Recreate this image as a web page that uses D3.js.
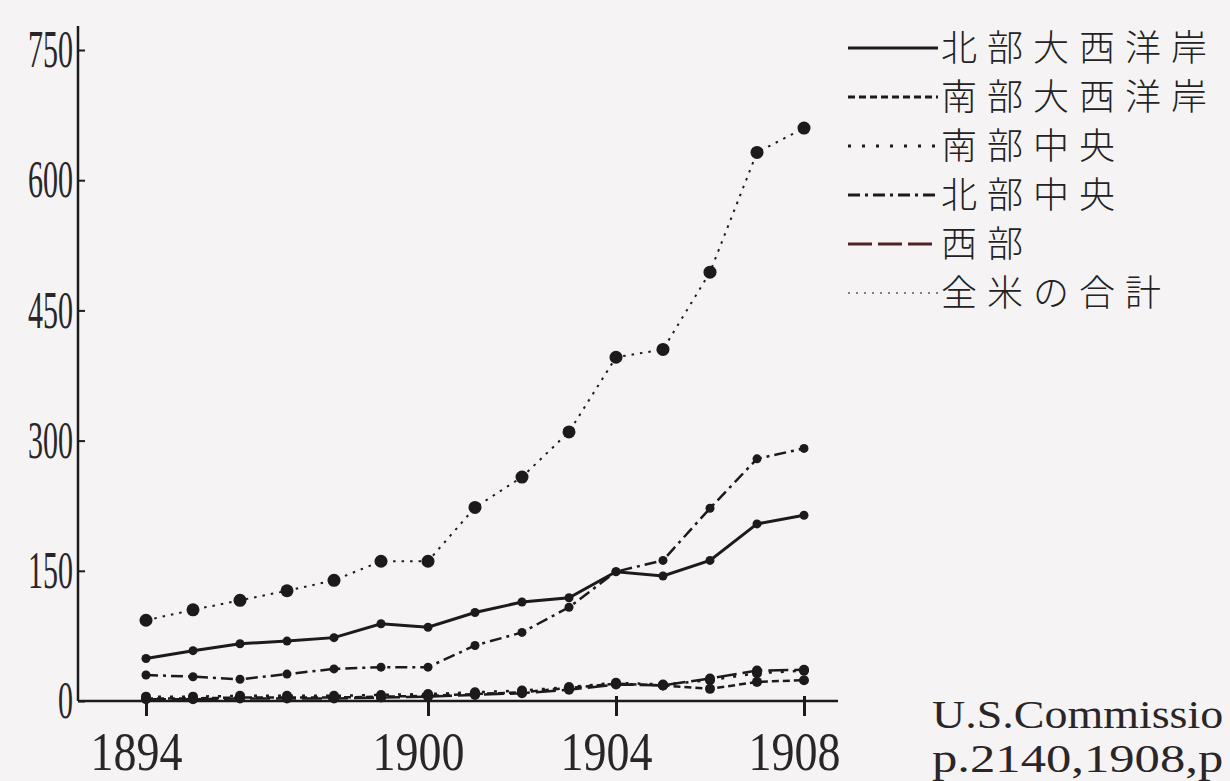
<!DOCTYPE html>
<html>
<head>
<meta charset="utf-8">
<script src="https://cdn.jsdelivr.net/npm/d3@7"></script>
<style>
body { margin: 0; background: #f6f3f4; }
</style>
</head>
<body>
<div id="chart-area"></div>
<script>
// data
var years = [1894, 1895, 1896, 1897, 1898, 1899, 1900, 1901, 1902, 1903, 1904, 1905, 1906, 1907, 1908];
var tickYears = [1894, 1900, 1904, 1908];
var yTicks = [0, 150, 300, 450, 600, 750];

var seriesNames = ["北部大西洋岸", "南部大西洋岸", "南部中央", "北部中央", "西部", "全米の合計"];
var northAtlantic = [49, 58, 66, 69, 73, 89, 85, 102, 114, 119, 149, 144, 162, 204, 214];
var southAtlantic = [3, 3, 4, 4, 4, 5, 6, 8, 10, 15, 20, 18, 14, 22, 24];
var southCentral = [5, 5, 6, 6, 6, 7, 8, 10, 12, 16, 21, 19, 24, 32, 35];
var northCentral = [30, 28, 25, 31, 37, 39, 39, 64, 79, 108, 149, 162, 222, 279, 291];
var western = [2, 2, 3, 3, 3, 4, 5, 7, 9, 13, 19, 18, 26, 35, 36];
var usTotal = [93, 105, 116, 127, 139, 161, 161, 223, 258, 310, 396, 405, 494, 632, 660];

// the scan is cropped at the right, only this much of the note shows
var sourceLines = ["U.S.Commissio", "p.2140,1908,p"];

var width = 1230, height = 781;
var ink = "#1c1a1b";

var svg = d3.select("#chart-area")
    .append("svg")
    .attr("width", width)
    .attr("height", height)
    .style("background-color", "#f6f3f4");

var x = d3.scaleLinear().domain([1894, 1908]).range([146, 804]);
var y = d3.scaleLinear().domain([0, 750]).range([701, 50]);

// line looks, keyed by series name
var styles = {
    "北部大西洋岸": { dash: null, width: 3, r: 4.5, legendDash: null, legendColor: ink },
    "南部大西洋岸": { dash: "7,4", width: 2.5, r: 5, legendDash: "7,4", legendColor: ink },
    "南部中央": { dash: "3,9", width: 2.5, r: 5, legendDash: "3,11", legendColor: ink },
    "北部中央": { dash: "12,5,3,5", width: 2.5, r: 4.5, legendDash: "12,5,3,5", legendColor: ink },
    "西部": { dash: "20,6", width: 2.5, r: 5, legendDash: "24,6", legendColor: "#4e2226" },
    "全米の合計": { dash: "2.5,6", width: 2, r: 6.5, legendDash: "2,6", legendColor: "#555" }
};

var series = [
    { name: seriesNames[0], values: northAtlantic },
    { name: seriesNames[1], values: southAtlantic },
    { name: seriesNames[2], values: southCentral },
    { name: seriesNames[3], values: northCentral },
    { name: seriesNames[4], values: western },
    { name: seriesNames[5], values: usTotal }
];

// axes lines
svg.append("line")
    .attr("x1", 78).attr("y1", 26)
    .attr("x2", 78).attr("y2", y(0))
    .attr("stroke", ink).attr("stroke-width", 2.5);

svg.append("line")
    .attr("x1", 78).attr("y1", y(0))
    .attr("x2", 838).attr("y2", y(0))
    .attr("stroke", ink).attr("stroke-width", 2.5);

var yAxisGroup = svg.append("g")
    .attr("transform", "translate(78,0)")
    .call(d3.axisLeft(y).tickValues(yTicks).tickSize(-7).tickPadding(5));
yAxisGroup.select(".domain").remove();
yAxisGroup.selectAll("line").attr("stroke", ink).attr("stroke-width", 2);
yAxisGroup.selectAll("text")
    .attr("font-family", "'Liberation Serif', serif")
    .attr("font-size", 52)
    .attr("fill", "#2a2628")
    .attr("textLength", d => String(d).length * 15)
    .attr("lengthAdjust", "spacingAndGlyphs");

var xAxisGroup = svg.append("g")
    .attr("transform", "translate(0," + y(0) + ")")
    .call(d3.axisBottom(x).tickValues(tickYears).tickFormat(d3.format("d")).tickSize(15).tickPadding(16));
xAxisGroup.select(".domain").remove();
xAxisGroup.selectAll("line").attr("y1", -5).attr("stroke", ink).attr("stroke-width", 3);
xAxisGroup.selectAll("text")
    .attr("font-family", "'Liberation Serif', serif")
    .attr("font-size", 54)
    .attr("fill", "#2a2628")
    .attr("dx", -10)
    .attr("textLength", 92)
    .attr("lengthAdjust", "spacingAndGlyphs");

// series
var line = d3.line()
    .x((d, i) => x(years[i]))
    .y(d => y(d));

var groups = svg.selectAll(".series")
    .data(series)
    .enter()
    .append("g")
    .attr("class", "series");

groups.append("path")
    .attr("d", d => line(d.values))
    .attr("fill", "none")
    .attr("stroke", ink)
    .attr("stroke-width", d => styles[d.name].width)
    .attr("stroke-dasharray", d => styles[d.name].dash);

groups.selectAll("circle")
    .data(d => d.values.map((v, i) => ({ year: years[i], value: v, r: styles[d.name].r })))
    .enter()
    .append("circle")
    .attr("cx", d => x(d.year))
    .attr("cy", d => y(d.value))
    .attr("r", d => d.r)
    .attr("fill", ink);

// legend
var legend = svg.append("g").attr("transform", "translate(848,48)");
var rows = legend.selectAll(".row")
    .data(seriesNames)
    .enter()
    .append("g")
    .attr("class", "row")
    .attr("transform", (d, i) => "translate(0," + i * 49 + ")");

rows.append("line")
    .attr("x1", 0).attr("x2", 90)
    .attr("y1", 0).attr("y2", 0)
    .attr("stroke", d => styles[d].legendColor)
    .attr("stroke-width", d => d === "全米の合計" ? 1.5 : 3)
    .attr("stroke-dasharray", d => styles[d].legendDash);

rows.append("text")
    .attr("x", 93)
    .attr("y", 13)
    .attr("font-family", "'Noto Sans CJK JP', sans-serif")
    .attr("font-weight", 300)
    .attr("font-size", 36)
    .attr("letter-spacing", 10)
    .attr("fill", "#222")
    .text(d => d);

// source note
svg.selectAll(".source")
    .data(sourceLines)
    .enter()
    .append("text")
    .attr("class", "source")
    .attr("x", 932)
    .attr("y", (d, i) => 728 + i * 44)
    .attr("font-family", "'Liberation Serif', serif")
    .attr("font-size", 40)
    .attr("fill", "#2a2628")
    .attr("textLength", d => d.length * 22.4)
    .attr("lengthAdjust", "spacingAndGlyphs")
    .text(d => d);
</script>
</body>
</html>
